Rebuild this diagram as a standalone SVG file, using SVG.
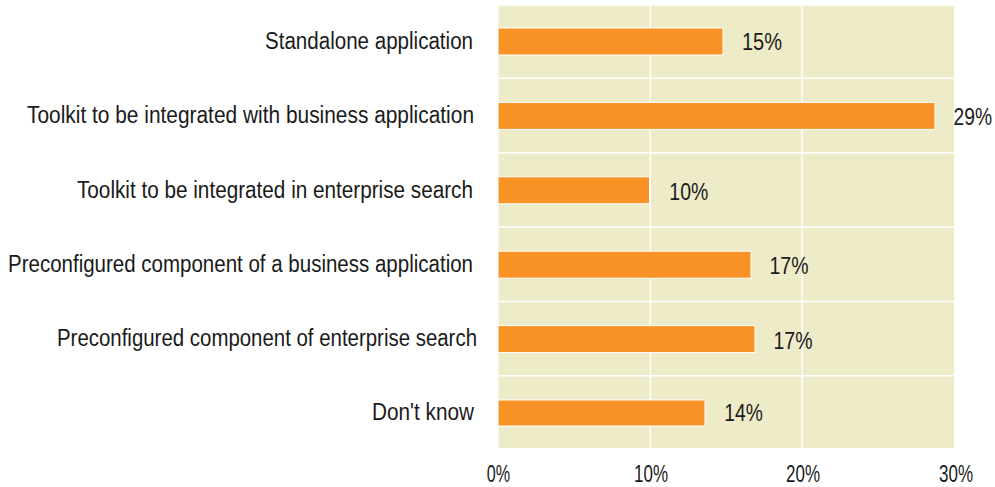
<svg xmlns="http://www.w3.org/2000/svg" width="995" height="487" viewBox="0 0 995 487">
<style>
.cat{font-family:"Liberation Sans",Arial,sans-serif;font-size:23px;fill:#1a1a1a;text-anchor:end}
.val{font-family:"Liberation Sans",Arial,sans-serif;font-size:23px;fill:#1a1a1a}
.ax{font-family:"Liberation Sans",Arial,sans-serif;font-size:23px;fill:#1a1a1a}
.bar{fill:#FA9326;stroke:#ffffff;stroke-width:1}
.grid{stroke:#ffffff;stroke-width:1.5}
</style>
<rect width="995" height="487" fill="#ffffff"/>
<g id="plot">
<rect x="498.5" y="5.7" width="455.5" height="442.3" fill="#EEEBC9"/>
<g class="grid">
<line x1="650.3" y1="5.7" x2="650.3" y2="448"/>
<line x1="802.1" y1="5.7" x2="802.1" y2="448"/>
<line x1="498.5" y1="78.3" x2="954" y2="78.3"/>
<line x1="498.5" y1="152.7" x2="954" y2="152.7"/>
<line x1="498.5" y1="227" x2="954" y2="227"/>
<line x1="498.5" y1="301.4" x2="954" y2="301.4"/>
<line x1="498.5" y1="375.8" x2="954" y2="375.8"/>
</g>
</g>
<g id="row1">
<rect class="bar" x="498" y="28" width="225" height="27"/>
<text class="cat" x="473" y="48.5" textLength="208" lengthAdjust="spacingAndGlyphs">Standalone application</text>
<text class="val" x="742" y="50" textLength="40" lengthAdjust="spacingAndGlyphs">15%</text>
</g>
<g id="row2">
<rect class="bar" x="498" y="102.4" width="437" height="27"/>
<text class="cat" x="474" y="123" textLength="447" lengthAdjust="spacingAndGlyphs">Toolkit to be integrated with business application</text>
<text class="val" x="953.5" y="125" textLength="38.5" lengthAdjust="spacingAndGlyphs">29%</text>
</g>
<g id="row3">
<rect class="bar" x="498" y="176.8" width="151.5" height="27"/>
<text class="cat" x="473" y="197.5" textLength="396" lengthAdjust="spacingAndGlyphs">Toolkit to be integrated in enterprise search</text>
<text class="val" x="669.3" y="200" textLength="39" lengthAdjust="spacingAndGlyphs">10%</text>
</g>
<g id="row4">
<rect class="bar" x="498" y="251.2" width="253" height="27"/>
<text class="cat" x="473" y="271.7" textLength="465" lengthAdjust="spacingAndGlyphs">Preconfigured component of a business application</text>
<text class="val" x="769.5" y="274" textLength="39" lengthAdjust="spacingAndGlyphs">17%</text>
</g>
<g id="row5">
<rect class="bar" x="498" y="325.6" width="257" height="27"/>
<text class="cat" x="477" y="346" textLength="420" lengthAdjust="spacingAndGlyphs">Preconfigured component of enterprise search</text>
<text class="val" x="773.5" y="348.5" textLength="39" lengthAdjust="spacingAndGlyphs">17%</text>
</g>
<g id="row6">
<rect class="bar" x="498" y="400" width="207" height="26"/>
<text class="cat" x="474" y="420" textLength="102" lengthAdjust="spacingAndGlyphs">Don't know</text>
<text class="val" x="724.3" y="421" textLength="38.5" lengthAdjust="spacingAndGlyphs">14%</text>
</g>
<g id="axis">
<text class="ax" x="486.7" y="482" textLength="23.3" lengthAdjust="spacingAndGlyphs">0%</text>
<text class="ax" x="634" y="482" textLength="34" lengthAdjust="spacingAndGlyphs">10%</text>
<text class="ax" x="786" y="482" textLength="34" lengthAdjust="spacingAndGlyphs">20%</text>
<text class="ax" x="939" y="482" textLength="34" lengthAdjust="spacingAndGlyphs">30%</text>
</g>
</svg>
